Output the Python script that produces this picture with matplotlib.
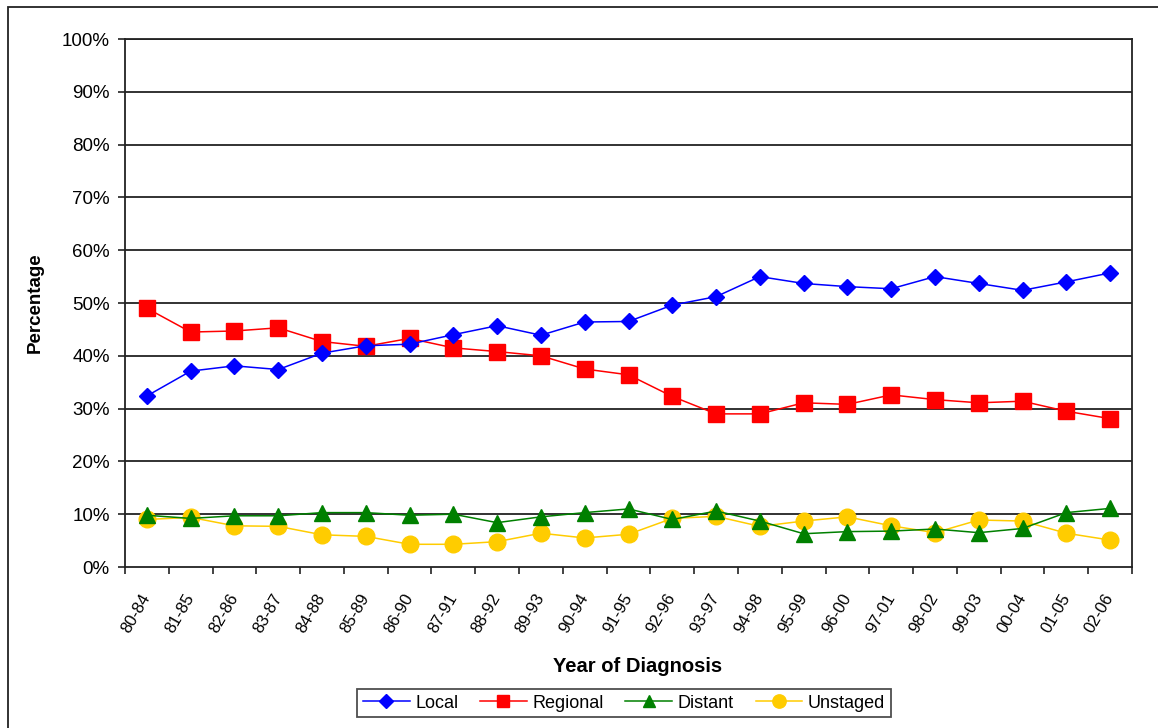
import matplotlib
matplotlib.use("Agg")
import matplotlib.pyplot as plt
from matplotlib.patches import Rectangle
import numpy as np

categories = ["80-84", "81-85", "82-86", "83-87", "84-88", "85-89", "86-90", "87-91",
              "88-92", "89-93", "90-94", "91-95", "92-96", "93-97", "94-98", "95-99",
              "96-00", "97-01", "98-02", "99-03", "00-04", "01-05", "02-06"]
local = [32.4, 37.1, 38.1, 37.4, 40.5, 41.9, 42.2, 44.0, 45.7, 43.9, 46.4, 46.5,
         49.6, 51.2, 55.0, 53.7, 53.1, 52.7, 55.0, 53.7, 52.4, 54.0, 55.7]
regional = [49.0, 44.5, 44.7, 45.3, 42.7, 41.8, 43.3, 41.5, 40.8, 40.0, 37.5, 36.4,
            32.3, 29.0, 29.0, 31.1, 30.8, 32.6, 31.7, 31.1, 31.4, 29.5, 28.1]
distant = [9.8, 9.2, 9.7, 9.7, 10.3, 10.3, 9.8, 10.0, 8.4, 9.5, 10.3, 11.0,
           9.0, 10.6, 8.7, 6.3, 6.7, 6.8, 7.2, 6.5, 7.3, 10.3, 11.1]
unstaged = [9.0, 9.4, 7.8, 7.7, 6.1, 5.8, 4.3, 4.3, 4.8, 6.4, 5.5, 6.2,
            9.2, 9.6, 7.7, 8.7, 9.5, 7.8, 6.5, 8.9, 8.7, 6.4, 5.1]
yticks = [0, 10, 20, 30, 40, 50, 60, 70, 80, 90, 100]

plt.rcParams['font.family'] = ['Liberation Sans', 'DejaVu Sans']

W, H = 1158, 728
fig = plt.figure(figsize=(W / 100, H / 100), dpi=100)
fig.patch.set_facecolor('white')

# outer chart frame
fig.add_artist(Rectangle((8 / W, -0.1), 1.2, 1 - 7 / H + 0.1, transform=fig.transFigure,
                         fill=False, edgecolor='#222222', linewidth=1.3))

ax = fig.add_axes([125 / W, 1 - 567 / H, (1132 - 125) / W, (567 - 39) / H])
x = np.arange(len(categories))

ax.plot(x, local, color='#0000FF', lw=1.1, marker='D', ms=8.6, label='Local', zorder=5)
ax.plot(x, regional, color='#FF0000', lw=1.1, marker='s', ms=11.5, label='Regional', zorder=4)
ax.plot(x, distant, color='#008000', lw=1.1, marker='^', ms=11.5, label='Distant', zorder=3)
ax.plot(x, unstaged, color='#FFCC00', lw=1.1, marker='o', ms=12, label='Unstaged', zorder=2)

ax.set_xlim(-0.5, len(categories) - 0.5)
ax.set_ylim(0, 100)
ax.set_yticks(yticks)
ax.set_yticklabels([f"{v}%" for v in yticks])
for v in yticks[1:]:
    ax.axhline(v, color='#222222', lw=1.3, zorder=1)

ax.set_xticks(x)
ax.set_xticklabels(categories, rotation=60, ha='right', va='center', rotation_mode='anchor')
ax.set_xticks(np.arange(-0.5, len(categories) + 0.5, 1), minor=True)
ax.tick_params(axis='x', which='major', length=0, pad=20, labelsize=12)
ax.tick_params(axis='x', which='minor', length=5, width=1.2, direction='out', color='#222222')
ax.tick_params(axis='y', length=5, width=1.2, direction='out', labelsize=13.5, pad=6, color='#222222')

for s in ax.spines.values():
    s.set_color('#222222')
    s.set_linewidth(1.3)

ax.set_ylabel('Percentage', fontsize=13.5, fontweight='bold')
ax.yaxis.set_label_coords(-(125 - 44) / (1132 - 125), 0.5)
ax.set_xlabel('Year of Diagnosis', fontsize=14.5, fontweight='bold')
ax.xaxis.set_label_coords(0.509, -(657 - 567) / (567 - 39))

leg = fig.legend(loc='center', bbox_to_anchor=(624 / W, 1 - 703 / H), ncol=4,
                 fontsize=13, frameon=True, fancybox=False, edgecolor='#222222',
                 borderpad=0.3, handlelength=2.6, handletextpad=0.3, columnspacing=1.2,
                 markerscale=0.8)
leg.get_frame().set_linewidth(1.3)

fig.savefig('out.png', dpi=100)
